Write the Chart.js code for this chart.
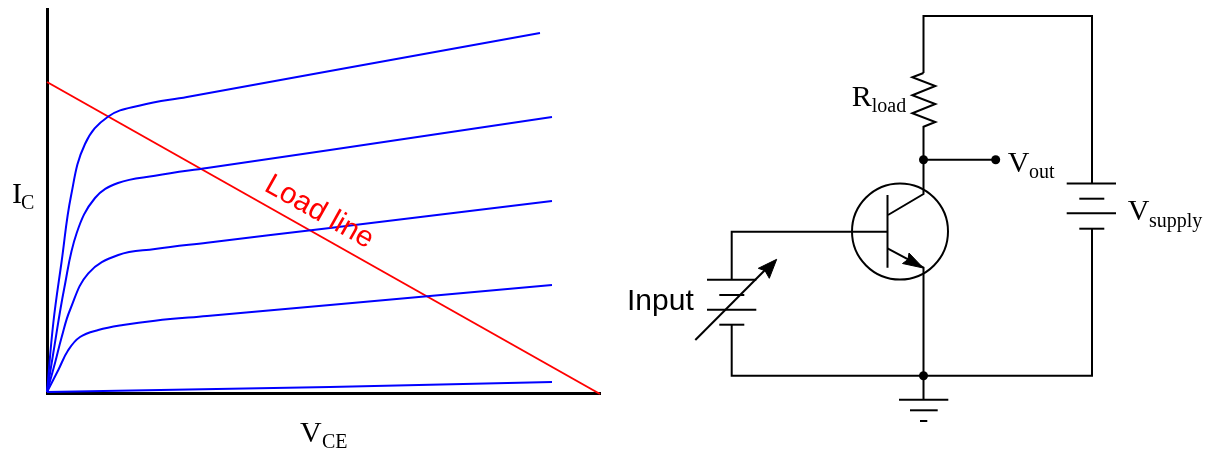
<!DOCTYPE html>
<html><head><meta charset="utf-8">
<script src="https://cdn.jsdelivr.net/npm/chart.js@4"></script>
<style>html,body{margin:0;background:#fff;overflow:hidden}canvas{position:absolute;top:0}</style>
</head><body>
<canvas id="curves" width="620" height="454" style="left:0"></canvas>
<canvas id="circuit" width="589" height="454" style="left:620px"></canvas>
<script>
// Transistor characteristic curves: [Vce, Ic]
const curve1 = [[0,2],[6.3,71],[14.7,133],[24,198],[38,250],[61.3,277.5],[93,288.5],[140,297],[283,323],[493,361]];
const curve2 = [[0,2],[6.3,41],[17.3,106],[29.7,161],[48,196],[71,211],[108,218.3],[160,226],[283,244],[505,277]];
const curve3 = [[0,2],[8,31],[14.7,57],[23,84],[41.3,120.7],[71.3,139],[108,145],[160,151.3],[283,166],[505,193]];
const curve4 = [[0,2],[11.3,24],[21.3,44],[33,57],[51.3,64],[76,69],[108,73.3],[160,78],[283,89],[505,109]];
const curve5 = [[0,2],[283,7],[505,12]];
const loadLine = [[0,312],[553,0]];

// Circuit wires: [x, y] on the drawing's own scale
const wireTop = [[923.5,73],[923.5,16],[1092,16],[1092,183.5]];
const resistor = [[923.5,73],[912.3,77.3],[935.3,86],[912.3,95.3],[935.3,104],[912.3,113.3],[935.3,122],[923.5,126.7],[923.5,194],[888,215]];
const wireOut = [[923.5,159.7],[995.7,159.7]];
const wireBase = [[887.5,231.7],[731.7,231.7],[731.7,279.7]];
const baseBar = [[887.5,195],[887.5,267.7]];
const emitter = [[887.5,248.3],[923.5,267.7],[923.5,400]];
const wireBottom = [[731.7,324.7],[731.7,375.7],[1092,375.7],[1092,228.7]];
const cellPlates = [
  [[707,279.7],[756.3,279.7]],[[719.3,295],[744.3,295]],[[707,309.7],[756.3,309.7]],[[719.3,324.7],[744.3,324.7]],
  [[1066.7,183.5],[1116,183.5]],[[1079.3,198.7],[1104.3,198.7]],[[1066.7,213.3],[1116,213.3]],[[1079.3,228.7],[1104.3,228.7]],
  [[899,399.7],[948.3,399.7]],[[910,410.3],[937.7,410.3]],[[920,421],[927.3,421]]
];
const inputArrow = [[695.3,340],[768,267]];
const inputHead = [[776.7,259.3],[758.3,268.3],[765,270.7],[769.3,278.3],[776.7,259.3]];
const emitterHead = [[923.3,268],[909,253],[908,259.5],[902.5,263.5],[923.3,268]];
const junctions = [[923.5,159.7],[995.7,159.7],[923.5,375.7]];
const transistorBody = [[900,231.5]];

// Text labels: [big text, subscript]
const labelIc = ['I','C'];
const labelVce = ['V','CE'];
const labelRload = ['R','load'];
const labelVout = ['V','out'];
const labelVsupply = ['V','supply'];
const labelInput = 'Input';
const labelLoad = 'Load line';

const pts = a => a.map(p => ({x:p[0], y:p[1]}));
const SERIF = '"Liberation Serif"', SANS = '"Liberation Sans"';

function subLabel(ctx, t, x, y, subX, subY){
  ctx.fillStyle = '#000'; ctx.textBaseline = 'alphabetic'; ctx.textAlign = 'left';
  ctx.font = '30px ' + SERIF; ctx.fillText(t[0], x, y);
  ctx.font = '20px ' + SERIF; ctx.fillText(t[1], subX, subY);
}

const blue = a => ({data:pts(a), showLine:true, borderColor:'#0000ff', borderWidth:2, tension:0.4, pointRadius:0, clip:false});

new Chart(document.getElementById('curves'), {
  type:'scatter',
  data:{datasets:[curve5,curve4,curve3,curve2,curve1].map(blue).concat([
    {data:pts(loadLine), showLine:true, borderColor:'#ff0000', borderWidth:2, pointRadius:0, clip:false}
  ])},
  options:{
    responsive:false, animation:false, devicePixelRatio:1,
    layout:{autoPadding:false,padding:{left:47,top:9,right:20,bottom:61}},
    plugins:{legend:{display:false},tooltip:{enabled:false}},
    scales:{
      x:{type:'linear',min:0,max:553,grid:{display:false,drawTicks:false,tickLength:0},ticks:{display:false,padding:0},border:{color:'#000',width:3}},
      y:{type:'linear',min:1,max:385,grid:{display:false,drawTicks:false,tickLength:0},ticks:{display:false,padding:0},border:{color:'#000',width:3}}
    }
  },
  plugins:[{id:'labels',afterDraw(c){
    const ctx=c.ctx; ctx.save();
    subLabel(ctx,labelIc,12,202.5,21,208.5);
    subLabel(ctx,labelVce,300,441.5,322,448);
    ctx.translate(263,190); ctx.rotate(29.4*Math.PI/180);
    ctx.fillStyle='#ff0000'; ctx.font='29.5px '+SANS; ctx.textAlign='left'; ctx.textBaseline='alphabetic';
    ctx.fillText(labelLoad,0,0);
    ctx.restore();
  }}]
});

const wire = a => ({data:pts(a), showLine:true, borderColor:'#000', borderWidth:2, pointRadius:0, clip:false});
const head = a => ({data:pts(a), showLine:true, borderColor:'#000', backgroundColor:'#000', borderWidth:1, pointRadius:0, fill:'shape', clip:false});

new Chart(document.getElementById('circuit'), {
  type:'scatter',
  data:{datasets:[
    ...[wireTop,resistor,wireOut,wireBase,baseBar,emitter,wireBottom,inputArrow,...cellPlates].map(wire),
    head(inputHead), head(emitterHead),
    {data:pts(junctions), pointRadius:4.5, pointBackgroundColor:'#000', pointBorderWidth:0, clip:false},
    {data:pts(transistorBody), pointRadius:48, pointBackgroundColor:'rgba(0,0,0,0)', pointBorderColor:'#000', pointBorderWidth:2, clip:false}
  ]},
  options:{
    responsive:false, animation:false, devicePixelRatio:1,
    layout:{autoPadding:false,padding:0},
    plugins:{legend:{display:false},tooltip:{enabled:false}},
    scales:{
      x:{type:'linear',min:620,max:1209,display:false},
      y:{type:'linear',min:0,max:454,reverse:true,display:false}
    }
  },
  plugins:[{id:'labels',afterDraw(c){
    const ctx=c.ctx; ctx.save();
    ctx.translate(-620,0);
    subLabel(ctx,labelRload,851.7,106,871.7,111.7);
    subLabel(ctx,labelVout,1007.7,171.7,1029,177.7);
    subLabel(ctx,labelVsupply,1127.7,220,1149,226.7);
    ctx.fillStyle='#000'; ctx.font='30px '+SANS; ctx.textAlign='left'; ctx.textBaseline='alphabetic';
    ctx.fillText(labelInput,627,310);
    ctx.restore();
  }}]
});
</script>
</body></html>
